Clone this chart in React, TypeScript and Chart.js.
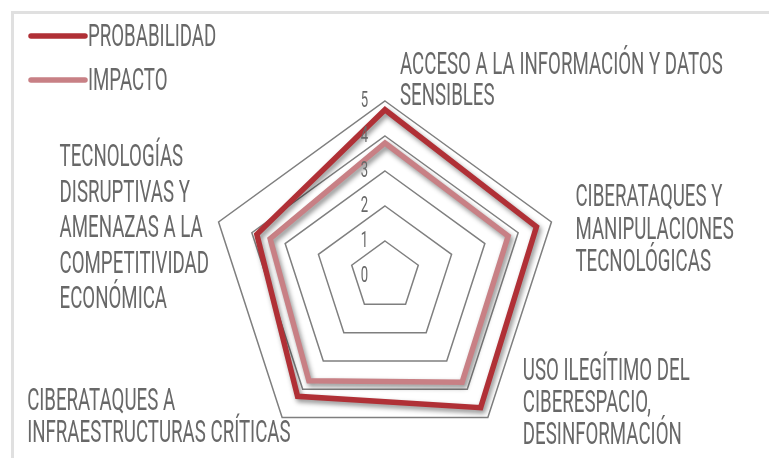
import React, { useEffect, useRef } from "react";
import { Chart, registerables } from "chart.js";

Chart.register(...registerables);

const CATEGORIES: string[][] = [
  ["ACCESO A LA INFORMACIÓN Y DATOS", "SENSIBLES"],
  ["CIBERATAQUES Y", "MANIPULACIONES", "TECNOLÓGICAS"],
  ["USO ILEGÍTIMO DEL", "CIBERESPACIO,", "DESINFORMACIÓN"],
  ["CIBERATAQUES A", "INFRAESTRUCTURAS CRÍTICAS"],
  ["TECNOLOGÍAS", "DISRUPTIVAS Y", "AMENAZAS A LA", "COMPETITIVIDAD", "ECONÓMICA"],
];
const SERIES_NAMES = ["PROBABILIDAD", "IMPACTO"];
const PROBABILIDAD = [4.75, 4.55, 4.65, 4.25, 3.85];
const IMPACTO = [3.8, 3.7, 3.75, 3.7, 3.45];
const SCALE_MIN = 0;
const SCALE_MAX = 5;
const SCALE_STEP = 1;

const COLORS = ["#b03036", "#c88085"];
const TEXT_COLOR = "#686868";
const FONT_FAMILY = "Roboto, 'Liberation Sans', sans-serif";
const SX = 0.655;
const SY = 1.08;

// label block placement relative to outer vertex: [dx, dy(cap top), lineHeight]
const LABEL_PLACE: [number, number, number][] = [
  [15, -49, 31],
  [24, -37, 32.5],
  [35, -59, 32],
  [-255, -29, 32],
  [-159, -77, 35.5],
];

function drawCondensed(
  ctx: CanvasRenderingContext2D,
  text: string,
  x: number,
  y: number,
  size: number,
  align: CanvasTextAlign,
  baseline: CanvasTextBaseline
) {
  ctx.save();
  ctx.translate(x, y);
  ctx.scale(SX, SY);
  ctx.font = `${size}px ${FONT_FAMILY}`;
  ctx.textAlign = align;
  ctx.textBaseline = baseline;
  ctx.fillStyle = TEXT_COLOR;
  ctx.fillText(text, 0, 0);
  ctx.restore();
}

const shadowPlugin = {
  id: "lineShadow",
  beforeDatasetDraw(chart: any) {
    const ctx = chart.ctx;
    ctx.save();
    ctx.shadowColor = "rgba(0,0,0,0.45)";
    ctx.shadowBlur = 5;
    ctx.shadowOffsetX = 2;
    ctx.shadowOffsetY = 3;
  },
  afterDatasetDraw(chart: any) {
    chart.ctx.restore();
  },
};

const textPlugin = {
  id: "customText",
  afterDraw(chart: any) {
    const ctx: CanvasRenderingContext2D = chart.ctx;
    const r = chart.scales.r;
    const labels: string[][] = chart.data.labels;
    // category labels
    labels.forEach((lines, i) => {
      const v = r.getPointPosition(i, r.drawingArea);
      const [dx, dy, lh] = LABEL_PLACE[i];
      lines.forEach((line, j) => {
        drawCondensed(ctx, line, v.x + dx, v.y + dy + j * lh + 21.5, 28.5, "left", "alphabetic");
      });
    });
    // tick labels
    r.ticks.forEach((t: any) => {
      const d = r.getDistanceFromCenterForValue(t.value);
      drawCondensed(ctx, String(t.value), r.xCenter - 17, r.yCenter - d + 1, 20, "right", "middle");
    });
    // legend
    chart.data.datasets.forEach((ds: any, i: number) => {
      const y = 36 + i * 44;
      ctx.save();
      ctx.strokeStyle = ds.borderColor;
      ctx.lineWidth = 5.5;
      ctx.lineCap = "round";
      ctx.beginPath();
      ctx.moveTo(31, y);
      ctx.lineTo(85, y);
      ctx.stroke();
      ctx.restore();
      drawCondensed(ctx, ds.label, 88, y + 10, 28.5, "left", "alphabetic");
    });
  },
};

export default function App() {
  const ref = useRef<HTMLCanvasElement | null>(null);
  useEffect(() => {
    if (!ref.current) return;
    const chart = new Chart(ref.current, {
      type: "radar",
      data: {
        labels: CATEGORIES as any,
        datasets: [
          {
            label: SERIES_NAMES[0],
            data: PROBABILIDAD,
            borderColor: COLORS[0],
            backgroundColor: "transparent",
            borderWidth: 5.5,
            pointRadius: 0,
            fill: false,
            borderJoinStyle: "miter",
            clip: false as any,
          },
          {
            label: SERIES_NAMES[1],
            data: IMPACTO,
            borderColor: COLORS[1],
            backgroundColor: "transparent",
            borderWidth: 5.5,
            pointRadius: 0,
            fill: false,
            borderJoinStyle: "miter",
            clip: false as any,
          },
        ],
      },
      options: {
        responsive: false,
        animation: false,
        devicePixelRatio: 1,
        layout: { padding: { left: 210, right: 209, top: 101, bottom: 7 } },
        plugins: { legend: { display: false }, tooltip: { enabled: false } },
        scales: {
          r: {
            min: SCALE_MIN,
            max: SCALE_MAX,
            ticks: { stepSize: SCALE_STEP, display: false },
            grid: { color: "#7f7f7f", lineWidth: 1.5, circular: false },
            angleLines: { display: false },
            pointLabels: { display: false },
          },
        },
      },
      plugins: [shadowPlugin, textPlugin],
    });
    return () => chart.destroy();
  }, []);
  return (
    <>
      <div
        style={{
          position: "fixed",
          left: 11,
          top: 11,
          width: 758,
          height: 447,
          boxSizing: "border-box",
          borderLeft: "3px solid #e0e0e0",
          borderTop: "3px solid #e0e0e0",
        }}
      />
      <canvas
        ref={ref}
        width={769}
        height={458}
        style={{ position: "fixed", left: 0, top: 0, width: 769, height: 458 }}
      />
    </>
  );
}
